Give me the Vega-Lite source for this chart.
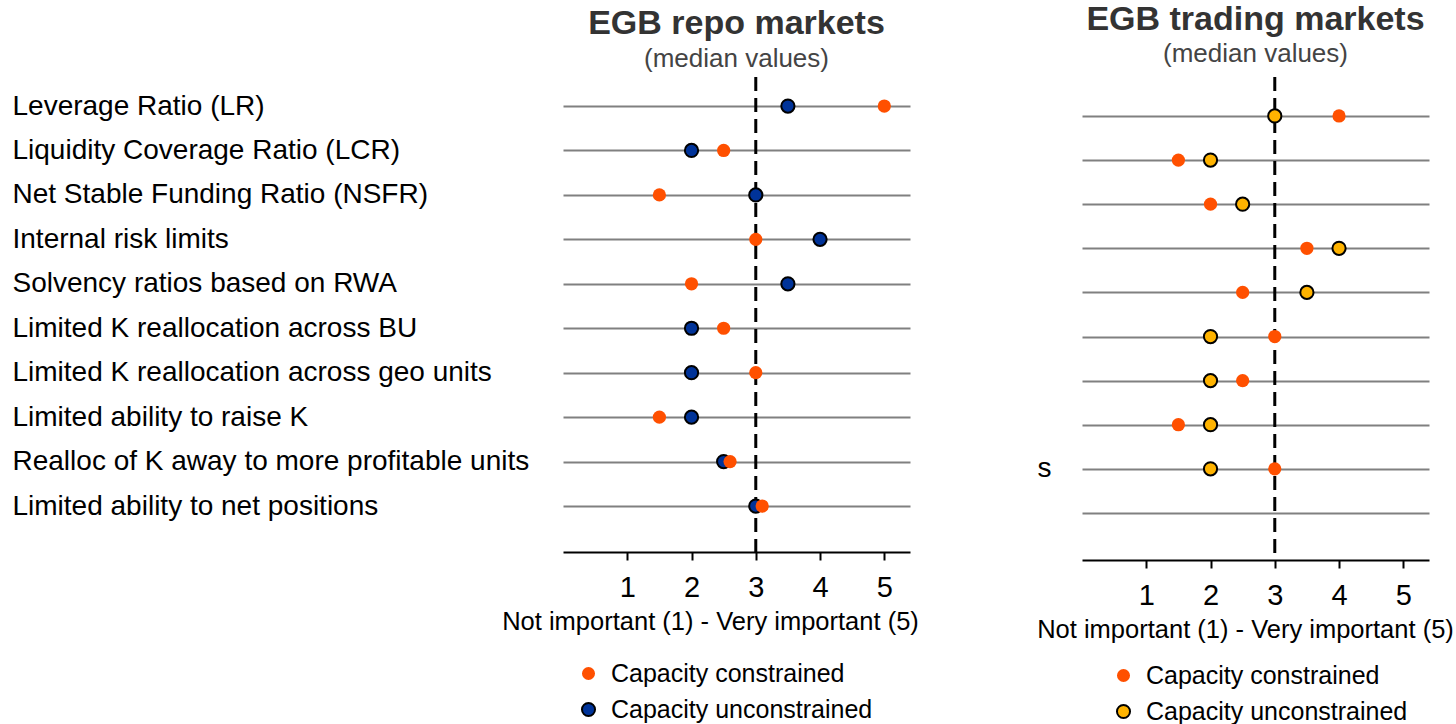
{
  "$schema": "https://vega.github.io/schema/vega-lite/v6.json",
  "background": "white",
  "padding": {"left": 12, "top": 2, "right": 0, "bottom": 0},
  "config": {
    "font": "Liberation Sans",
    "view": {"stroke": null},
    "concat": {"spacing": 117}
  },
  "datasets": {
    "repo": [
      {"item": "Leverage Ratio (LR)", "group": "Capacity unconstrained", "value": 3.5},
      {"item": "Liquidity Coverage Ratio (LCR)", "group": "Capacity unconstrained", "value": 2},
      {"item": "Net Stable Funding Ratio (NSFR)", "group": "Capacity unconstrained", "value": 3},
      {"item": "Internal risk limits", "group": "Capacity unconstrained", "value": 4},
      {"item": "Solvency ratios based on RWA", "group": "Capacity unconstrained", "value": 3.5},
      {"item": "Limited K reallocation across BU", "group": "Capacity unconstrained", "value": 2},
      {"item": "Limited K reallocation across geo units", "group": "Capacity unconstrained", "value": 2},
      {"item": "Limited ability to raise K", "group": "Capacity unconstrained", "value": 2},
      {"item": "Realloc of K away to more profitable units", "group": "Capacity unconstrained", "value": 2.5},
      {"item": "Limited ability to net positions", "group": "Capacity unconstrained", "value": 3},
      {"item": "Leverage Ratio (LR)", "group": "Capacity constrained", "value": 5},
      {"item": "Liquidity Coverage Ratio (LCR)", "group": "Capacity constrained", "value": 2.5},
      {"item": "Net Stable Funding Ratio (NSFR)", "group": "Capacity constrained", "value": 1.5},
      {"item": "Internal risk limits", "group": "Capacity constrained", "value": 3},
      {"item": "Solvency ratios based on RWA", "group": "Capacity constrained", "value": 2},
      {"item": "Limited K reallocation across BU", "group": "Capacity constrained", "value": 2.5},
      {"item": "Limited K reallocation across geo units", "group": "Capacity constrained", "value": 3},
      {"item": "Limited ability to raise K", "group": "Capacity constrained", "value": 1.5},
      {"item": "Realloc of K away to more profitable units", "group": "Capacity constrained", "value": 2.6},
      {"item": "Limited ability to net positions", "group": "Capacity constrained", "value": 3.1}
    ],
    "trading": [
      {"item": "Leverage Ratio (LR)", "group": "Capacity unconstrained", "value": 3},
      {"item": "Liquidity Coverage Ratio (LCR)", "group": "Capacity unconstrained", "value": 2},
      {"item": "Net Stable Funding Ratio (NSFR)", "group": "Capacity unconstrained", "value": 2.5},
      {"item": "Internal risk limits", "group": "Capacity unconstrained", "value": 4},
      {"item": "Solvency ratios based on RWA", "group": "Capacity unconstrained", "value": 3.5},
      {"item": "Limited K reallocation across BU", "group": "Capacity unconstrained", "value": 2},
      {"item": "Limited K reallocation across geo units", "group": "Capacity unconstrained", "value": 2},
      {"item": "Limited ability to raise K", "group": "Capacity unconstrained", "value": 2},
      {"item": "Realloc of K away to more profitable units", "group": "Capacity unconstrained", "value": 2},
      {"item": "Leverage Ratio (LR)", "group": "Capacity constrained", "value": 4},
      {"item": "Liquidity Coverage Ratio (LCR)", "group": "Capacity constrained", "value": 1.5},
      {"item": "Net Stable Funding Ratio (NSFR)", "group": "Capacity constrained", "value": 2},
      {"item": "Internal risk limits", "group": "Capacity constrained", "value": 3.5},
      {"item": "Solvency ratios based on RWA", "group": "Capacity constrained", "value": 2.5},
      {"item": "Limited K reallocation across BU", "group": "Capacity constrained", "value": 3},
      {"item": "Limited K reallocation across geo units", "group": "Capacity constrained", "value": 2.5},
      {"item": "Limited ability to raise K", "group": "Capacity constrained", "value": 1.5},
      {"item": "Realloc of K away to more profitable units", "group": "Capacity constrained", "value": 3}
    ],
    "mid": [{"value": 3}]
  },
  "resolve": {
    "scale": {"fill": "independent", "stroke": "independent", "x": "independent", "y": "independent"},
    "legend": {"fill": "independent", "stroke": "independent"}
  },
  "hconcat": [
    {
      "width": 347,
      "height": 475,
      "title": {
        "text": "EGB repo markets",
        "subtitle": "(median values)",
        "fontSize": 34,
        "fontWeight": "bold",
        "color": "#333333",
        "subtitleFontSize": 26,
        "subtitleColor": "#444444",
        "subtitlePadding": 5,
        "offset": 4,
        "anchor": "middle"
      },
      "layer": [
        {
          "data": {"name": "mid"},
          "mark": {"type": "rule", "color": "black", "strokeWidth": 3, "strokeDash": [14, 7]},
          "encoding": {
            "x": {"field": "value", "type": "quantitative", "scale": {"domain": [0, 5.4], "nice": false}}
          }
        },
        {
          "data": {"name": "repo"},
          "mark": {"type": "circle", "size": 175, "opacity": 1, "strokeWidth": 2},
          "encoding": {
            "x": {
              "field": "value",
              "type": "quantitative",
              "scale": {"domain": [0, 5.4], "nice": false},
              "axis": {
                "values": [1, 2, 3, 4, 5],
                "format": "d",
                "grid": false,
                "domainColor": "black",
                "domainWidth": 2,
                "tickColor": "black",
                "tickWidth": 2,
                "tickSize": 8,
                "labelFontSize": 29,
                "labelColor": "black",
                "labelPadding": 13,
                "title": "Not important (1) - Very important (5)",
                "titleFontSize": 25.5,
                "titleFontWeight": "normal",
                "titleColor": "black",
                "titlePadding": 7,
                "titleX": 147
              }
            },
            "y": {
              "field": "item",
              "type": "nominal",
              "scale": {
                "type": "point",
                "domain": ["Leverage Ratio (LR)", "Liquidity Coverage Ratio (LCR)", "Net Stable Funding Ratio (NSFR)", "Internal risk limits", "Solvency ratios based on RWA", "Limited K reallocation across BU", "Limited K reallocation across geo units", "Limited ability to raise K", "Realloc of K away to more profitable units", "Limited ability to net positions"],
                "padding": 0.844,
                "align": 0.387
              },
              "axis": {
                "title": null,
                "domain": false,
                "ticks": false,
                "grid": true,
                "gridColor": "#808080",
                "gridWidth": 2,
                "labelAlign": "left",
                "labelBaseline": "middle",
                "labelPadding": 551,
                "labelLimit": 0,
                "labelFontSize": 28,
                "labelColor": "black"
              }
            },
            "fill": {
              "field": "group",
              "type": "nominal",
              "scale": {"domain": ["Capacity constrained", "Capacity unconstrained"], "range": ["#FF5000", "#003399"]},
              "legend": {"orient": "none", "legendX": 13, "legendY": 584, "title": null, "labelFontSize": 25, "labelColor": "black", "labelLimit": 0, "symbolSize": 170, "symbolStrokeWidth": 2, "symbolType": "circle", "rowPadding": 10, "labelOffset": 10, "padding": 0, "direction": "vertical"}
            },
            "stroke": {
              "field": "group",
              "type": "nominal",
              "scale": {"domain": ["Capacity constrained", "Capacity unconstrained"], "range": ["rgba(0,0,0,0)", "#000000"]},
              "legend": {"orient": "none", "legendX": 13, "legendY": 584, "title": null, "labelFontSize": 25, "labelColor": "black", "labelLimit": 0, "symbolSize": 170, "symbolStrokeWidth": 2, "symbolType": "circle", "rowPadding": 10, "labelOffset": 10, "padding": 0, "direction": "vertical"}
            }
          }
        }
      ]
    },
    {
      "width": 347,
      "height": 483,
      "title": {
        "text": "EGB trading markets",
        "subtitle": "(median values)",
        "fontSize": 34,
        "fontWeight": "bold",
        "color": "#333333",
        "subtitleFontSize": 26,
        "subtitleColor": "#444444",
        "subtitlePadding": 4,
        "offset": 9,
        "anchor": "middle"
      },
      "layer": [
        {
          "data": {"name": "mid"},
          "mark": {"type": "rule", "color": "black", "strokeWidth": 3, "strokeDash": [14, 7]},
          "encoding": {
            "x": {"field": "value", "type": "quantitative", "scale": {"domain": [0, 5.4], "nice": false}}
          }
        },
        {
          "data": {"name": "trading"},
          "mark": {"type": "circle", "size": 175, "opacity": 1, "strokeWidth": 2},
          "encoding": {
            "x": {
              "field": "value",
              "type": "quantitative",
              "scale": {"domain": [0, 5.4], "nice": false},
              "axis": {
                "values": [1, 2, 3, 4, 5],
                "format": "d",
                "grid": false,
                "domainColor": "black",
                "domainWidth": 2,
                "tickColor": "black",
                "tickWidth": 2,
                "tickSize": 8,
                "labelFontSize": 29,
                "labelColor": "black",
                "labelPadding": 13,
                "title": "Not important (1) - Very important (5)",
                "titleFontSize": 25.5,
                "titleFontWeight": "normal",
                "titleColor": "black",
                "titlePadding": 7,
                "titleX": 163
              }
            },
            "y": {
              "field": "item",
              "type": "nominal",
              "scale": {
                "type": "point",
                "domain": ["Leverage Ratio (LR)", "Liquidity Coverage Ratio (LCR)", "Net Stable Funding Ratio (NSFR)", "Internal risk limits", "Solvency ratios based on RWA", "Limited K reallocation across BU", "Limited K reallocation across geo units", "Limited ability to raise K", "Realloc of K away to more profitable units", "Limited ability to net positions"],
                "padding": 0.975,
                "align": 0.453
              },
              "axis": {
                "title": null,
                "domain": false,
                "ticks": false,
                "grid": true,
                "gridColor": "#808080",
                "gridWidth": 2,
                "labelAlign": "right",
                "labelBaseline": "middle",
                "labelPadding": 31,
                "labelLimit": 0,
                "labelFontSize": 28,
                "labelColor": "black",
                "labelExpr": "datum.label == 'Realloc of K away to more profitable units' ? 's' : ''"
              }
            },
            "fill": {
              "field": "group",
              "type": "nominal",
              "scale": {"domain": ["Capacity constrained", "Capacity unconstrained"], "range": ["#FF5000", "#FFB300"]},
              "legend": {"orient": "none", "legendX": 29, "legendY": 586, "title": null, "labelFontSize": 25, "labelColor": "black", "labelLimit": 0, "symbolSize": 170, "symbolStrokeWidth": 2, "symbolType": "circle", "rowPadding": 10, "labelOffset": 10, "padding": 0, "direction": "vertical"}
            },
            "stroke": {
              "field": "group",
              "type": "nominal",
              "scale": {"domain": ["Capacity constrained", "Capacity unconstrained"], "range": ["rgba(0,0,0,0)", "#000000"]},
              "legend": {"orient": "none", "legendX": 29, "legendY": 586, "title": null, "labelFontSize": 25, "labelColor": "black", "labelLimit": 0, "symbolSize": 170, "symbolStrokeWidth": 2, "symbolType": "circle", "rowPadding": 10, "labelOffset": 10, "padding": 0, "direction": "vertical"}
            }
          }
        }
      ]
    }
  ]
}
